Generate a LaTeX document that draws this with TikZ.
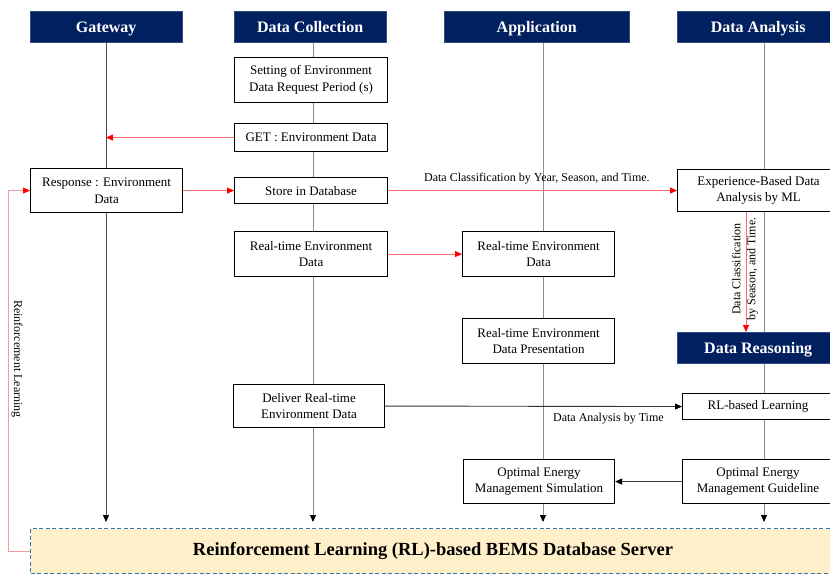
\documentclass[tikz,border=0pt]{standalone}
\usepackage{fontspec}
\setmainfont{Liberation Serif}
\usetikzlibrary{arrows.meta,backgrounds,calc}
\definecolor{hdr}{HTML}{002060}
\definecolor{dbfill}{HTML}{FFF0C9}
\definecolor{dbline}{HTML}{2E75B6}
\definecolor{redline}{HTML}{FF6B6B}
\definecolor{pinkline}{HTML}{F79A9A}
\definecolor{lifeg}{HTML}{8C8C8C}
\tikzset{
  hdrbox/.style={fill=hdr, draw=hdr!80!white, text=white, font=\fontsize{16}{18}\selectfont\bfseries, minimum height=31pt, inner sep=0pt, text height=13.5pt, text depth=2pt, anchor=north west},
  msgbox/.style={draw=black, line width=1.1pt, fill=white, font=\fontsize{13}{16.5}\selectfont, align=center, inner sep=0pt, anchor=north west},
  lifeline/.style={draw=lifeg, line width=1pt, -{Triangle[width=6pt,length=7pt,color=black]}},
  plainlife/.style={draw=lifeg, line width=1pt},
  redarrow/.style={draw=redline, line width=0.9pt, -{Triangle[width=6pt,length=7pt,color=red]}},
  blkarrow/.style={draw=black!80, line width=0.9pt, -{Triangle[width=6pt,length=7pt,color=black]}},
  lbl/.style={font=\fontsize{12}{14.5}\selectfont, inner sep=0pt},
}
\begin{document}
\begin{tikzpicture}[x=1pt,y=-1pt]
\useasboundingbox (0,0) rectangle (830,574);
% headers
\node[hdrbox, minimum width=152pt] (GW) at (30,11) {Gateway};
\node[hdrbox, minimum width=152pt] (DC) at (234,11) {Data Collection};
\node[hdrbox, minimum width=185pt] (AP) at (444,11) {Application};
\node[hdrbox, minimum width=162pt] (DA) at (677,11) {Data Analysis};
% lifeline ends
\coordinate (eGW) at (106,522);
\coordinate (eDC) at (313,522);
\coordinate (eAP) at (543,522);
\coordinate (eDA) at (764,522);
% Data collection boxes
\node[msgbox, minimum width=153pt, minimum height=45pt] (SET) at (234,57) {Setting of Environment\\Data Request Period (s)};
\node[msgbox, minimum width=153pt, minimum height=28pt] (GET) at (234,123) {GET : Environment Data};
\node[msgbox, minimum width=152pt, minimum height=44pt] (RESP) at (30,168) {Response : Environment\\Data};
\node[msgbox, minimum width=153pt, minimum height=26pt] (STORE) at (234,177) {Store in Database};
\node[msgbox, minimum width=153pt, minimum height=45pt] (RTDC) at (234,231) {Real-time Environment\\Data};
\node[msgbox, minimum width=151pt, minimum height=43pt] (DEL) at (233,384) {Deliver Real-time\\Environment Data};
% Application boxes
\node[msgbox, minimum width=152pt, minimum height=45pt] (RTAP) at (462,231) {Real-time Environment\\Data};
\node[msgbox, minimum width=152pt, minimum height=45pt] (PRES) at (462,318) {Real-time Environment\\Data Presentation};
\node[msgbox, minimum width=151pt, minimum height=44pt] (SIM) at (463,459) {Optimal Energy\\Management Simulation};
% Data analysis boxes
\node[msgbox, minimum width=162pt, minimum height=42pt] (EXP) at (677,169) {Experience-Based Data\\Analysis by ML};
\node[hdrbox, minimum width=162pt] (DR) at (677,332) {Data Reasoning};
\node[msgbox, minimum width=151pt, minimum height=26pt] (RL) at (682,393) {RL-based Learning};
\node[msgbox, minimum width=151pt, minimum height=44pt] (GUIDE) at (682,459) {Optimal Energy\\Management Guideline};
% database server
\node[draw=dbline, fill=dbfill, dashed, dash pattern=on 4pt off 2.5pt, line width=1pt, minimum width=806pt, minimum height=45pt, anchor=north west, inner sep=0pt] (DB) at (30,528) {};
\node[font=\fontsize{18.5}{22}\selectfont\bfseries, inner sep=0pt] (DBT) at (433,551) {Reinforcement Learning (RL)-based BEMS Database Server};
% lifelines
\begin{pgfonlayer}{background}
\draw[lifeline, draw=black!70] (GW.south -| eGW) -- (eGW);
\draw[lifeline] (DC.south -| eDC) -- (eDC);
\draw[lifeline] (AP.south -| eAP) -- (eAP);
\draw[plainlife] (DA.south -| eDA) -- (EXP.north -| eDA);
\draw[plainlife] (EXP.south -| eDA) -- (DR.north -| eDA);
\draw[lifeline] (DR.south -| eDA) -- (eDA);
\end{pgfonlayer}
% messages
\draw[redarrow] (GET.west) -- (GET.west -| eGW);
\draw[redarrow] (RESP.east) -- (STORE.west);
\draw[redarrow] (STORE.east) -- node[lbl, above=6pt, pos=0.515] (L1) {Data Classification by Year, Season, and Time.} (EXP.west);
\draw[redarrow] (RTDC.east) -- (RTAP.west);
\coordinate (dx) at (746,0);
\draw[redarrow] (EXP.south -| dx) -- (DR.north -| dx);
\node[lbl, rotate=90, align=center, font=\fontsize{12}{15}\selectfont] (L2) at (745,269) {Data Classification\\by Season, and Time.};
\draw[blkarrow] (DEL.east) -- node[lbl, below=6pt, pos=0.752] (L3) {Data Analysis by Time} (RL.west);
\draw[blkarrow] (GUIDE.west) -- (SIM.east);
% feedback
\coordinate (fb) at (8,0);
\draw[draw=pinkline, line width=1pt, -{Triangle[width=6pt,length=7pt,color=red]}] (DB.west) -- (DB.west -| fb) |- (RESP.west);
\node[lbl, rotate=-90] (L4) at (17,359) {Reinforcement Learning};
\end{tikzpicture}
\end{document}
